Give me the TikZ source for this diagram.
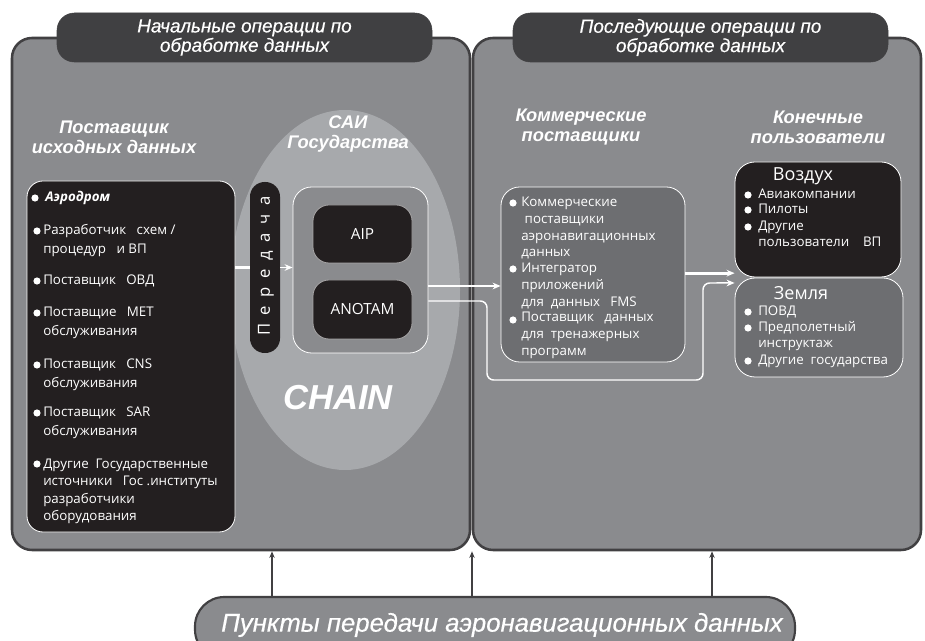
\documentclass[tikz,border=0pt]{standalone}
\usepackage{fontspec}
\setmainfont{Open Sans}
\newfontfamily\hfont{Liberation Sans}
\newfontfamily\hfontm[FakeBold=0.5]{Liberation Sans}
\usetikzlibrary{arrows.meta}
\definecolor{panel}{HTML}{8A8B8E}
\definecolor{edge}{HTML}{414042}
\definecolor{ellc}{HTML}{A7A9AC}
\definecolor{hdrc}{HTML}{404042}
\definecolor{blk}{HTML}{231F20}
\definecolor{midc}{HTML}{6D6E71}
\tikzset{
  panelbox/.style={draw=edge, line width=1.9pt, fill=panel, rounded corners=15pt, inner sep=0pt},
  hdrbox/.style={fill=hdrc, draw=edge, rounded corners=13pt, inner sep=0pt, text=white, align=center, font=\hfontm\itshape\fontsize{14.2}{14.5}\selectfont},
  seclabel/.style={text=white, align=center, inner sep=0pt, font=\hfont\bfseries\itshape\fontsize{13.7}{15}\selectfont},
  blkbox/.style={fill=blk, draw=white, line width=0.6pt, rounded corners=12pt, inner sep=0pt},
  midbox/.style={fill=midc, draw=white, line width=0.6pt, rounded corners=14pt, inner sep=0pt},
  item/.style={text=white, anchor=base west, align=left, inner sep=0pt, font=\fontsize{10}{14.25}\selectfont},
  citem/.style={item, font=\fontsize{10}{12.5}\selectfont},
  eitem/.style={item, font=\fontsize{10}{12}\selectfont},
  wline/.style={draw=white, line width=1.1pt},
  wthick/.style={draw=white, line width=2.3pt},
  tipw/.style={-{Stealth[length=6pt,width=5pt]}},
  upar/.style={draw=edge, line width=1.1pt, -{Stealth[length=5pt,width=4pt]}},
}
\newcommand\bul[1]{\fill[white] #1 circle[radius=2.7pt];}
\newcommand\lsp{\hspace{6.5pt}}
\begin{document}
\begin{tikzpicture}[x=0.75pt,y=-0.75pt]
\useasboundingbox (0,0) rectangle (925,641);
% panels
\node[panelbox, minimum width=343.5pt, minimum height=384pt] (lp) at (241,294) {};
\node[panelbox, minimum width=336pt, minimum height=384pt] (rp) at (697,294) {};
% headers
\node[hdrbox, minimum width=281.25pt, minimum height=36.75pt] (h1) at (244.5,37.5) {Начальные операции по\\обработке данных};
\node[hdrbox, minimum width=281.25pt, minimum height=36.75pt] (h2) at (700.5,37.5) {Последующие операции по\\обработке данных};
% ellipse
\fill[ellc] (345,290) ellipse [x radius=86.25pt, y radius=135pt];
% section labels
\node[seclabel] (l1) at (114,137) {Поставщик\\исходных данных};
\node[seclabel] (l2) at (348,134) {САИ\\Государства};
\node[seclabel] (l3) at (581,127) {Коммерческие\\поставщики};
\node[seclabel] (l4) at (818,127) {Конечные\\пользователи};
% source box
\node[blkbox, minimum width=156pt, minimum height=263.25pt] (src) at (131,356.5) {};
\bul{(35,198)}
\node[item, font=\bfseries\itshape\fontsize{10}{14.25}\selectfont] (s1) at (45,202) {Аэродром};
\bul{(37,231)}
\node[item] (s2) at (43,254) {Разработчик~~ схем /\\процедур~~ и ВП};
\bul{(37,281)}
\node[item] (s3) at (43,285) {Поставщик~~ ОВД};
\bul{(37,313)}
\node[item] (s4) at (43,336) {Поставщие~~ MET\\обслуживания};
\bul{(37,365)}
\node[item] (s5) at (43,388) {Поставщик~~ CNS\\обслуживания};
\bul{(37,413)}
\node[item] (s6) at (43,436) {Поставщик~~ SAR\\обслуживания};
\bul{(37,464)}
\node[item, font=\fontsize{10}{13.2}\selectfont] (s7) at (43,520.8) {Другие~ Государственные\\источники~~ Гос .институты\\разработчики\\оборудования};
% transfer pill
\node[fill=blk, rounded corners=11pt, minimum width=22.5pt, minimum height=128.25pt, inner sep=0pt] (tx) at (265,267.5) {};
\node[rotate=90, text=white, inner sep=0pt, font=\fontsize{12.5}{12.5}\selectfont] (txt) at (266,266) {П\lsp е\lsp р\lsp е\lsp д\lsp а\lsp ч\lsp а};
% chain box
\node[fill=panel, draw=white, line width=0.6pt, rounded corners=14pt, minimum width=101.25pt, minimum height=124.5pt, inner sep=0pt] (chain) at (360.5,270) {};
\node[blkbox, draw=white!60!blk, minimum width=74.25pt, minimum height=43.5pt, text=white, font=\fontsize{11.5}{12}\selectfont] (aip) at (362.5,234) {AIP};
\node[blkbox, draw=white!60!blk, minimum width=74.25pt, minimum height=44.25pt, text=white, font=\fontsize{11.5}{12}\selectfont] (anotam) at (362.5,309.5) {ANOTAM};
\node[text=white, inner sep=0pt, font=\hfont\bfseries\itshape\fontsize{26}{26}\selectfont] (chn) at (338,398) {CHAIN};
% commercial box
\node[midbox, minimum width=138pt, minimum height=131.25pt] (comm) at (593,274.5) {};
\bul{(513,203)}
\node[citem] (c1) at (521,257) {Коммерческие\\~поставщики\\аэронавигационных\\данных};
\bul{(513,269)}
\node[citem] (c2) at (521,306.3) {Интегратор\\приложений\\для~ данных~~ FMS};
\bul{(513,320)}
\node[citem] (c3) at (521,355.3) {Поставщик~~ данных\\для~ тренажерных\\программ};
% air box
\node[blkbox, rounded corners=15pt, minimum width=124.5pt, minimum height=86.25pt] (air) at (818,219.5) {};
\node[text=white, inner sep=0pt, font=\fontsize{13.5}{14}\selectfont] (airt) at (803,176) {Воздух};
\bul{(748,195)}
\node[eitem] (a1) at (758,199) {Авиакомпании};
\bul{(748,210)}
\node[eitem] (a2) at (758,214) {Пилоты};
\bul{(748,227)}
\node[eitem] (a3) at (758,247) {Другие\\пользователи~~~ ВП};
% ground box
\node[midbox, rounded corners=15pt, minimum width=126pt, minimum height=74.25pt] (gnd) at (819,327.5) {};
\node[text=white, inner sep=0pt, font=\fontsize{13.5}{14}\selectfont] (gndt) at (801,293) {Земля};
\bul{(748,312)}
\node[eitem] (g1) at (758,316) {ПОВД};
\bul{(748,328)}
\node[eitem] (g2) at (758,348) {Предполетный\\инструктаж};
\bul{(748,361)}
\node[eitem] (g3) at (758,365) {Другие~ государства};
% connectors
\draw[wthick] (tx.west -| src.east) -- (tx.west);
\draw[wline, tipw] (tx.east) -- (tx.east -| chain.west);
\draw[wline, tipw] ([yshift=-12pt]chain.east) -- ([yshift=-12pt]chain.east -| comm.west);
\draw[wline, tipw, rounded corners=5pt] ([yshift=-23.25pt]chain.east) -| (487,380) -| (703,283) -- ([yshift=33.4pt]gnd.west);
\draw[wthick, tipw] ([yshift=1pt]comm.east) -- ([yshift=1pt]comm.east -| air.west);
% bottom pill
\node[fill=panel, draw=edge, line width=1.6pt, rounded corners=22pt, minimum width=450pt, minimum height=46.5pt, inner sep=0pt] (pts) at (495,628) {};
\node[text=white, inner sep=0pt, font=\hfontm\itshape\fontsize{19.3}{20}\selectfont] (ptst) at (502,625) {Пункты передачи аэронавигационных данных};
\draw[upar] ([xshift=-167.25pt]pts.north) -- ([xshift=-167.25pt]pts.north |- lp.south);
\draw[upar] ([xshift=-17.25pt]pts.north) -- ([xshift=-17.25pt]pts.north |- lp.south);
\draw[upar] ([xshift=162.75pt]pts.north) -- ([xshift=162.75pt]pts.north |- lp.south);
\end{tikzpicture}
\end{document}
